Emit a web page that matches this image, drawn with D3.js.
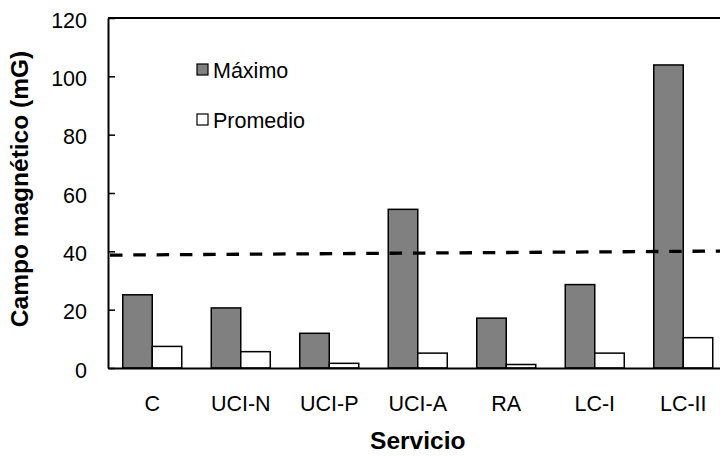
<!DOCTYPE html>
<html>
<head>
<meta charset="utf-8">
<script src="https://cdn.jsdelivr.net/npm/d3@7"></script>
<style>
  body { margin: 0; background: #fff; }
  svg { display: block; font-family: "Liberation Sans", Arial, sans-serif; }
  .axis text { font-size: 21.5px; fill: #000; }
  .title { font-size: 24.5px; font-weight: bold; fill: #000; }
  .legend text { font-size: 21.5px; fill: #000; }
</style>
</head>
<body>
<script>
// values
var categories = ["C", "UCI-N", "UCI-P", "UCI-A", "RA", "LC-I", "LC-II"];
var series = ["Máximo", "Promedio"];
var maximo = [25.1, 20.6, 11.9, 54.4, 17.1, 28.6, 103.9];
var promedio = [7.4, 5.6, 1.6, 5.1, 1.2, 5.1, 10.4];
var yTicks = [0, 20, 40, 60, 80, 100, 120];
var refLine = [38.7, 40.1];   // dashed reference, left end / right end

var g = {
    width: 720,
    height: 456,
    margin: { left: 108, top: 18 },
    plotW: 619.5,
    plotH: 350
};

var data = categories.map(function(c, i) {
    return { name: c, values: [maximo[i], promedio[i]] };
});

g.svg = d3.select("body").append("svg")
    .attr("width", g.width)
    .attr("height", g.height);

var x0 = d3.scaleBand()
    .domain(categories)
    .range([g.margin.left, g.margin.left + g.plotW]);

var x1 = d3.scaleBand()
    .domain(series)
    .range([0, x0.bandwidth()])
    .paddingOuter(0.5);

var y = d3.scaleLinear()
    .domain([0, 120])
    .range([g.margin.top + g.plotH, g.margin.top]);

var fills = ["#808080", "#ffffff"];

// frame top and right
g.svg.append("path")
    .attr("d", "M" + x0.range()[0] + "," + y(120) + "H" + x0.range()[1] + "V" + y(0))
    .attr("fill", "none")
    .attr("stroke", "#000")
    .attr("stroke-width", 2);

// bars
var groups = g.svg.append("g").selectAll("g")
    .data(data)
  .enter().append("g")
    .attr("transform", function(d) { return "translate(" + x0(d.name) + ",0)"; });

groups.selectAll("rect")
    .data(function(d) { return d.values.map(function(v, i) { return { key: series[i], value: v, i: i }; }); })
  .enter().append("rect")
    .attr("x", function(d) { return x1(d.key); })
    .attr("width", x1.bandwidth())
    .attr("y", function(d) { return y(d.value); })
    .attr("height", function(d) { return y(0) - y(d.value); })
    .attr("fill", function(d) { return fills[d.i]; })
    .attr("stroke", "#000")
    .attr("stroke-width", 1.5);

// dashed reference line
g.svg.append("line")
    .attr("x1", x0.range()[0])
    .attr("x2", x0.range()[1])
    .attr("y1", y(refLine[0]))
    .attr("y2", y(refLine[1]))
    .attr("stroke", "#000")
    .attr("stroke-width", 3.3)
    .attr("stroke-dasharray", "12.5,10.8")
    .attr("stroke-dashoffset", -2);

// y axis
var yAxis = g.svg.append("g")
    .attr("class", "axis")
    .attr("transform", "translate(" + g.margin.left + ",0)")
    .call(d3.axisLeft(y).tickValues(yTicks).tickSizeInner(-7).tickSizeOuter(0).tickPadding(21))
    .attr("font-family", null);
yAxis.select(".domain").attr("stroke-width", 2);
yAxis.selectAll(".tick line").attr("stroke-width", 1.5);
yAxis.selectAll("text").attr("dy", "0.42em");

// x axis
var xAxis = g.svg.append("g")
    .attr("class", "axis")
    .attr("transform", "translate(0," + y(0) + ")")
    .call(d3.axisBottom(x0).tickSize(0).tickPadding(28))
    .attr("font-family", null);
xAxis.select(".domain").attr("stroke-width", 2);

// axis titles
g.svg.append("text")
    .attr("class", "title")
    .attr("text-anchor", "middle")
    .attr("x", (x0.range()[0] + x0.range()[1]) / 2)
    .attr("y", 449)
    .text("Servicio");

g.svg.append("text")
    .attr("class", "title")
    .attr("text-anchor", "middle")
    .attr("transform", "translate(28," + (y(60) - 4) + ") rotate(-90)")
    .text("Campo magnético (mG)");

// legend
var legend = g.svg.append("g")
    .attr("class", "legend")
    .attr("transform", "translate(197,64)");

var item = legend.selectAll("g")
    .data(series)
  .enter().append("g")
    .attr("transform", function(d, i) { return "translate(0," + (i * 50) + ")"; });

item.append("rect")
    .attr("width", 11)
    .attr("height", 11)
    .attr("fill", function(d, i) { return fills[i]; })
    .attr("stroke", "#000")
    .attr("stroke-width", 1.2);

item.append("text")
    .attr("x", 16)
    .attr("y", 14)
    .text(function(d) { return d; });
</script>
</body>
</html>
